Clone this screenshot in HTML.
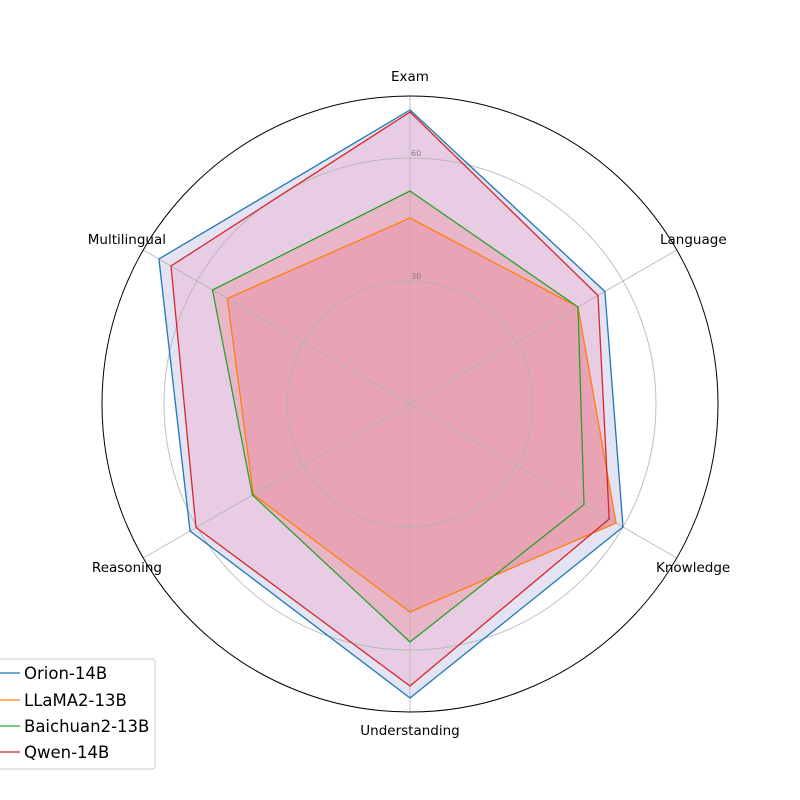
<!DOCTYPE html>
<html><head><meta charset="utf-8"><style>
html,body{margin:0;padding:0;background:#fff;}
svg{display:block;font-family:"DejaVu Sans","Liberation Sans",sans-serif;}
</style></head><body>
<svg width="800" height="800" viewBox="0 0 800 800" xmlns="http://www.w3.org/2000/svg">
<rect width="800" height="800" fill="#fff"/>
<g stroke="none">
<polygon points="410,110 604.9,291.5 623,527 410,698 190,531 158.9,259" fill="#e4e3f4"/>
<polygon points="410,112 598,295.5 609.2,519 410,686 196,527.5 171,266" fill="#e8cce4"/>
<polygon points="410,191 578,307 584,504.5 410,642 252.4,495 212.5,290" fill="#e8b6c8"/>
<polygon points="410,218 578,307 616.1,523 410,612 253.3,494.5 227.3,298.5" fill="#e8a4b4"/>
</g>
<g fill="none" stroke="#b0b0b0" stroke-opacity="0.8" stroke-width="1">
<circle cx="410" cy="404" r="123"/>
<circle cx="410" cy="404" r="246"/>
<line x1="410" y1="404" x2="410" y2="96"/>
<line x1="410" y1="404" x2="676.7" y2="250"/>
<line x1="410" y1="404" x2="676.7" y2="558"/>
<line x1="410" y1="404" x2="410" y2="712"/>
<line x1="410" y1="404" x2="143.3" y2="558"/>
<line x1="410" y1="404" x2="143.3" y2="250"/>
</g>
<circle cx="410" cy="404" r="308" fill="none" stroke="#000" stroke-width="1"/>
<g font-size="8" fill="#808080">
<text x="411" y="279">30</text>
<text x="411" y="156">60</text>
</g>
<g stroke-width="1.3" stroke-linejoin="round" fill="none">
<polygon points="410,110 604.9,291.5 623,527 410,698 190,531 158.9,259" stroke="#1f77b4"/>
<polygon points="410,218 578,307 616.1,523 410,612 253.3,494.5 227.3,298.5" stroke="#ff7f0e"/>
<polygon points="410,191 578,307 584,504.5 410,642 252.4,495 212.5,290" stroke="#2ca02c"/>
<polygon points="410,112 598,295.5 609.2,519 410,686 196,527.5 171,266" stroke="#d62728"/>
</g>
<g font-size="13.5" fill="#000">
<text x="410" y="81" text-anchor="middle">Exam</text>
<text x="660" y="244">Language</text>
<text x="656" y="572">Knowledge</text>
<text x="410" y="735" text-anchor="middle">Understanding</text>
<text x="162" y="572" text-anchor="end">Reasoning</text>
<text x="166" y="244" text-anchor="end">Multilingual</text>
</g>
<rect x="-5" y="659" width="160" height="110" rx="3" fill="#fff" fill-opacity="0.8" stroke="#ccc"/>
<g stroke-width="1.3">
<line x1="0" y1="673" x2="20" y2="673" stroke="#1f77b4"/>
<line x1="0" y1="700" x2="20" y2="700" stroke="#ff7f0e"/>
<line x1="0" y1="726" x2="20" y2="726" stroke="#2ca02c"/>
<line x1="0" y1="752" x2="20" y2="752" stroke="#d62728"/>
</g>
<g font-size="16.5" fill="#000">
<text x="24" y="679">Orion-14B</text>
<text x="24" y="706">LLaMA2-13B</text>
<text x="24" y="732">Baichuan2-13B</text>
<text x="24" y="758">Qwen-14B</text>
</g>
</svg>
</body></html>
